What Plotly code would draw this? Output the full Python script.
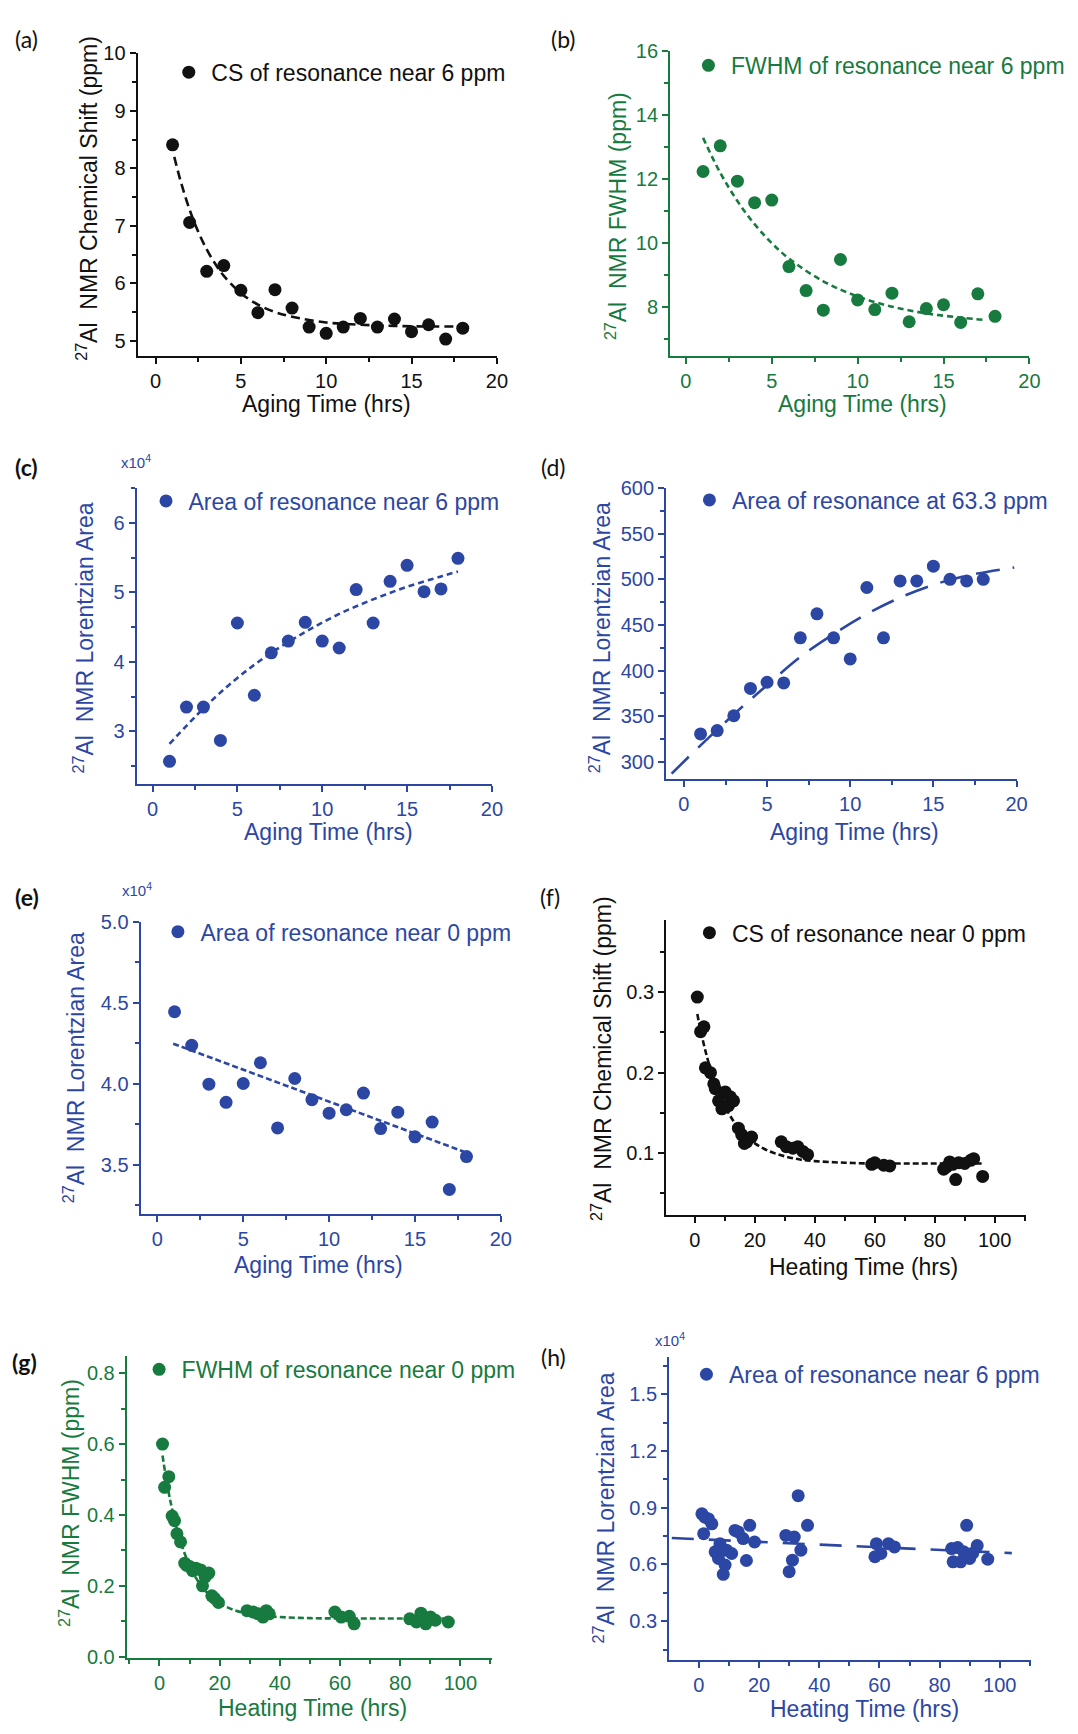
import plotly.graph_objects as go

W, H = 1078, 1734
BLACK = "#111111"
GREEN = "#177a3e"
BLUE = "#2c47a3"
FONT = "Liberation Sans, Arial, sans-serif"

# ---------------- data ----------------
# (a) CS of resonance near 6 ppm vs aging time
a_time = [1, 2, 3, 4, 5, 6, 7, 8, 9, 10, 11, 12, 13, 14, 15, 16, 17, 18]
a_cs = [8.41, 7.06, 6.21, 6.31, 5.88, 5.49, 5.89, 5.57, 5.24, 5.13, 5.24, 5.39, 5.24, 5.38, 5.16, 5.28, 5.03, 5.22]
a_fit_x = [1.1, 1.5, 2, 2.5, 3, 3.5, 4, 5, 6, 7, 8, 10, 12, 14, 16, 18]
a_fit_y = [8.20, 7.75, 7.28, 6.90, 6.59, 6.34, 6.13, 5.83, 5.63, 5.50, 5.42, 5.32, 5.28, 5.26, 5.25, 5.25]

# (b) FWHM of resonance near 6 ppm vs aging time
b_time = [1, 2, 3, 4, 5, 6, 7, 8, 9, 10, 11, 12, 13, 14, 15, 16, 17, 18]
b_fwhm = [12.23, 13.03, 11.93, 11.26, 11.34, 9.27, 8.52, 7.91, 9.49, 8.23, 7.93, 8.44, 7.55, 7.96, 8.08, 7.53, 8.42, 7.72]
b_fit_x = [1, 2, 3, 4, 5, 6, 8, 10, 12, 14, 16, 17.5]
b_fit_y = [13.28, 12.19, 11.31, 10.59, 10.00, 9.52, 8.81, 8.34, 8.02, 7.81, 7.68, 7.60]

# (c) Area of resonance near 6 ppm (x10^4) vs aging time
c_time = [1, 2, 3, 4, 5, 6, 7, 8, 9, 10, 11, 12, 13, 14, 15, 16, 17, 18]
c_area = [2.57, 3.35, 3.35, 2.87, 4.56, 3.52, 4.13, 4.30, 4.57, 4.30, 4.20, 5.04, 4.56, 5.16, 5.39, 5.01, 5.05, 5.49]
c_fit_x = [1, 3, 5, 7, 9, 11, 13, 15, 17, 18]
c_fit_y = [2.82, 3.33, 3.77, 4.13, 4.43, 4.69, 4.90, 5.08, 5.23, 5.30]

# (d) Area of resonance at 63.3 ppm vs aging time
d_time = [1, 2, 3, 4, 5, 6, 7, 8, 9, 10, 11, 12, 13, 14, 15, 16, 17, 18]
d_area = [330.6, 334.2, 350.5, 380.4, 387.2, 386.5, 435.9, 462.2, 435.9, 412.8, 491.1, 435.9, 498.3, 498.3, 514.5, 500.1, 498.3, 500.1]
d_fit_x = [-0.74, 1, 3, 5, 7, 9, 11, 13, 15, 17, 19.86]
d_fit_y = [287, 318, 352, 384, 415, 440, 462, 480, 494, 504, 513]

# (e) Area of resonance near 0 ppm (x10^4) vs aging time
e_time = [1, 2, 3, 4, 5, 6, 7, 8, 9, 10, 11, 12, 13, 14, 15, 16, 17, 18]
e_area = [4.445, 4.238, 3.998, 3.886, 4.002, 4.13, 3.728, 4.033, 3.902, 3.819, 3.84, 3.943, 3.724, 3.825, 3.673, 3.764, 3.348, 3.551]
e_fit_x = [0.92, 17.85]
e_fit_y = [4.248, 3.581]

# (f) CS of resonance near 0 ppm vs heating time
f_time = [0.8, 1.9, 3.0, 3.5, 5.2, 6.3, 6.8, 7.9, 9.0, 10.1, 11.2, 11.8, 12.9, 14.5, 15.6, 16.5, 17.3, 18.9,
          28.8, 30.5, 32.7, 34.3, 36.0, 37.6, 59, 60, 63, 65, 83, 84, 85, 86, 87, 88, 90, 92, 93, 96]
f_cs = [0.294, 0.251, 0.257, 0.206, 0.200, 0.186, 0.180, 0.165, 0.155, 0.176, 0.159, 0.170, 0.165, 0.131, 0.123, 0.112, 0.114, 0.120,
        0.114, 0.108, 0.106, 0.108, 0.102, 0.098, 0.086, 0.088, 0.085, 0.084, 0.080, 0.083, 0.089, 0.086, 0.067, 0.088, 0.087, 0.091, 0.093, 0.071]
f_fit_x = [0.8, 2, 4, 6, 8, 10, 13, 16, 20, 25, 30, 35, 40, 50, 60, 70, 80, 90, 96]
f_fit_y = [0.273, 0.251, 0.220, 0.195, 0.174, 0.158, 0.139, 0.125, 0.112, 0.102, 0.096, 0.092, 0.090, 0.088, 0.087, 0.087, 0.087, 0.087, 0.087]

# (g) FWHM of resonance near 0 ppm vs heating time
g_time = [1, 1.7, 3.1, 4.2, 5.0, 5.8, 7.0, 8.4, 9.0, 10, 11.0, 12.1, 13.7, 14.3, 15.2, 16.4, 17.4, 18.3, 19.6,
          29.1, 31.2, 32.8, 34.4, 35.5, 36.5, 58.3, 60.4, 63.1, 64.7, 83.2, 85.4, 86.9, 88.5, 90.1, 91.7, 96]
g_fwhm = [0.600, 0.478, 0.508, 0.397, 0.384, 0.347, 0.324, 0.264, 0.258, 0.255, 0.243, 0.250, 0.245, 0.200, 0.225, 0.236, 0.172, 0.165, 0.153,
          0.130, 0.126, 0.121, 0.112, 0.130, 0.121, 0.126, 0.112, 0.114, 0.093, 0.107, 0.098, 0.123, 0.093, 0.112, 0.103, 0.098]
g_fit_x = [1, 2, 3, 4, 6, 8, 10, 12, 15, 18, 21, 25, 30, 35, 40, 50, 60, 70, 80, 90, 96]
g_fit_y = [0.568, 0.514, 0.466, 0.424, 0.354, 0.300, 0.257, 0.224, 0.188, 0.163, 0.146, 0.131, 0.120, 0.115, 0.112, 0.109, 0.108, 0.108, 0.108, 0.108, 0.108]

# (h) Area of resonance near 6 ppm (x10^4) vs heating time
h_time = [1.0, 2.0, 3.2, 4.3, 1.6, 7.0, 5.4, 9.2, 10.9, 6.5, 8.7, 8.1, 13.1, 16.9, 14.7, 15.8, 18.5, 12.0,
          33.0, 36.1, 28.9, 31.7, 33.9, 31.1, 30.0, 59.0, 63.0, 65.0, 58.5, 60.5,
          89.0, 84.0, 86.0, 88.0, 92.5, 91.0, 84.5, 87.0, 90.0, 96.0]
h_area = [0.868, 0.850, 0.841, 0.815, 0.763, 0.710, 0.667, 0.676, 0.658, 0.632, 0.597, 0.548, 0.772, 0.807, 0.737, 0.621, 0.719, 0.780,
          0.964, 0.807, 0.754, 0.745, 0.676, 0.623, 0.562, 0.710, 0.710, 0.693, 0.641, 0.658,
          0.807, 0.684, 0.690, 0.667, 0.700, 0.660, 0.614, 0.614, 0.632, 0.628]
h_fit_x = [-9, 104]
h_fit_y = [0.740, 0.660]

legend_names = ["CS of resonance near 6 ppm", "FWHM of resonance near 6 ppm", "Area of resonance near 6 ppm",
                "Area of resonance at 63.3 ppm", "Area of resonance near 0 ppm", "CS of resonance near 0 ppm",
                "FWHM of resonance near 0 ppm", "Area of resonance near 6 ppm"]
panel_letters = ["(a)", "(b)", "(c)", "(d)", "(e)", "(f)", "(g)", "(h)"]
x_titles = ["Aging Time (hrs)"] * 5 + ["Heating Time (hrs)"] * 3
y_titles = ["Chemical Shift (ppm)", "FWHM (ppm)", "Lorentzian Area", "Lorentzian Area",
            "Lorentzian Area", "Chemical Shift (ppm)", "FWHM (ppm)", "Lorentzian Area"]

# ---------------- layout / style config ----------------
panels = [
    dict(x=a_time, y=a_cs, fx=a_fit_x, fy=a_fit_y, color=BLACK, box=(139, 502, 43, 349),
         xr=[-1.05, 20], yr=[4.74, 10], xd=5, xm=2.5, yd=1, ym=0.5, yf="", dash="9px,5px",
         leg=(188, 62), ytit=(88, 190), xtit=(330, 398), lab=(27, 28), bold=False),
    dict(x=b_time, y=b_fwhm, fx=b_fit_x, fy=b_fit_y, color=GREEN, box=(677, 1040, 40, 349),
         xr=[-0.92, 20], yr=[6.49, 16], xd=5, xm=2.5, yd=2, ym=1, yf="", dash="6px,4px",
         leg=(713, 55), ytit=(623, 208), xtit=(871, 398), lab=(569, 28), bold=False),
    dict(x=c_time, y=c_area, fx=c_fit_x, fy=c_fit_y, color=BLUE, box=(138, 497, 483, 782),
         xr=[-0.94, 20], yr=[2.25, 6.5], xd=5, xm=2.5, yd=1, ym=0.5, yf="", dash="6px,4px",
         leg=(165, 496), ytit=(85, 635), xtit=(332, 831), lab=(27, 462), bold=True, mult=(137, 456)),
    dict(x=d_time, y=d_area, fx=d_fit_x, fy=d_fit_y, color=BLUE, box=(673, 1027, 483, 777),
         xr=[-1.07, 20], yr=[281.6, 600], xd=5, xm=2.5, yd=50, ym=25, yf="", dash="24px,13px",
         leg=(714, 495), ytit=(607, 634), xtit=(863, 831), lab=(559, 462), bold=False),
    dict(x=e_time, y=e_area, fx=e_fit_x, fy=e_fit_y, color=BLUE, box=(142, 506, 922, 1218),
         xr=[-0.98, 20], yr=[3.195, 5.0], xd=5, xm=2.5, yd=0.5, ym=0.25, yf=".1f", dash="6px,3px",
         leg=(177, 932), ytit=(75, 1070), xtit=(322, 1269), lab=(27, 897), bold=True, mult=(138, 889)),
    dict(x=f_time, y=f_cs, fx=f_fit_x, fy=f_fit_y, color=BLACK, box=(673, 1037, 920, 1219),
         xr=[-9.6, 110.6], yr=[0.0227, 0.39], xd=20, xm=10, yd=0.1, ym=0.05, yf=".1f", dash="6px,3px",
         leg=(714, 933), ytit=(608, 1060), xtit=(872, 1271), lab=(556, 897), bold=False),
    dict(x=g_time, y=g_fwhm, fx=g_fit_x, fy=g_fit_y, color=GREEN, box=(128, 497, 1361, 1667),
         xr=[-10.9, 110.5], yr=[-0.003, 0.85], xd=20, xm=10, yd=0.2, ym=0.1, yf=".1f", dash="6px,3px",
         leg=(158, 1375), ytit=(70, 1510), xtit=(316, 1718), lab=(25, 1368), bold=True),
    dict(x=h_time, y=h_area, fx=h_fit_x, fy=h_fit_y, color=BLUE, box=(676, 1042, 1362, 1669),
         xr=[-9.9, 110.5], yr=[0.096, 1.70], xd=20, xm=10, yd=0.3, ym=0.15, yf=".1f", dash="22px,15px",
         leg=(711, 1380), ytit=(610, 1515), xtit=(873, 1719), lab=(559, 1362), bold=False, mult=(677, 1345)),
]

fig = go.Figure()
annotations = []
layout = dict(width=W, height=H, margin=dict(l=0, r=0, t=0, b=0),
              paper_bgcolor="white", plot_bgcolor="white", showlegend=True)

for i, p in enumerate(panels):
    n = i + 1
    sfx = "" if n == 1 else str(n)
    xa, ya = "x" + sfx, "y" + sfx
    legname = "legend" + sfx
    c = p["color"]
    fig.add_trace(go.Scatter(x=p["fx"], y=p["fy"], mode="lines", xaxis=xa, yaxis=ya,
                             line=dict(color=c, width=2.6, dash=p["dash"], shape="spline"),
                             showlegend=False, hoverinfo="skip"))
    fig.add_trace(go.Scatter(x=p["x"], y=p["y"], mode="markers", xaxis=xa, yaxis=ya,
                             name=legend_names[i], legend=legname,
                             marker=dict(color=c, size=13, line=dict(width=0))))
    x0, x1, y0, y1 = p["box"]
    tickfont = dict(family=FONT, size=20, color=c)
    common = dict(showgrid=False, zeroline=False, showline=True, linecolor=c, linewidth=2,
                  ticks="outside", ticklen=6, tickwidth=2, tickcolor=c, tickfont=tickfont,
                  mirror=False)
    layout["xaxis" + sfx] = dict(domain=[x0 / W, x1 / W], range=p["xr"], anchor=ya,
                                 dtick=p["xd"], tick0=0,
                                 minor=dict(dtick=p["xm"], ticks="outside", ticklen=4, tickwidth=1.5, tickcolor=c),
                                 **common)
    layout["yaxis" + sfx] = dict(domain=[1 - y1 / H, 1 - y0 / H], range=p["yr"], anchor=xa,
                                 dtick=p["yd"], tick0=0, tickformat=p["yf"],
                                 minor=dict(dtick=p["ym"], ticks="outside", ticklen=4, tickwidth=1.5, tickcolor=c),
                                 **common)
    lx, ly = p["leg"]
    layout[legname] = dict(x=(lx - 20) / W, y=1 - ly / H, xanchor="left", yanchor="middle",
                           bgcolor="rgba(0,0,0,0)", borderwidth=0, itemwidth=35,
                           font=dict(family=FONT, size=23, color=c))
    # axis titles
    tx, ty = p["xtit"]
    annotations.append(dict(text=x_titles[i], x=tx / W, y=1 - ty / H, xref="paper", yref="paper",
                            showarrow=False, xanchor="center", yanchor="middle",
                            font=dict(family=FONT, size=23, color=c)))
    vx, vy = p["ytit"]
    annotations.append(dict(text="<sup>27</sup>Al&nbsp; NMR " + y_titles[i], x=vx / W, y=1 - vy / H,
                            xref="paper", yref="paper", showarrow=False, textangle=-90,
                            xanchor="center", yanchor="middle",
                            font=dict(family=FONT, size=23, color=c)))
    lbx, lby = p["lab"]
    lt = panel_letters[i]
    annotations.append(dict(text=("<b>" + lt + "</b>") if p["bold"] else lt, x=lbx / W, y=1 - lby / H,
                            xref="paper", yref="paper", showarrow=False, xanchor="center", yanchor="middle",
                            font=dict(family="Lato, Liberation Sans, sans-serif", size=23, color="#111111")))
    if "mult" in p:
        mx, my = p["mult"]
        annotations.append(dict(text="x10<sup>4</sup>", x=mx / W, y=1 - my / H, xref="paper", yref="paper",
                                showarrow=False, xanchor="center", yanchor="middle",
                                font=dict(family=FONT, size=15, color=c)))

layout["annotations"] = annotations
fig.update_layout(**layout)
fig.write_html("out.html", config={"displayModeBar": False},
               post_script="document.body.style.margin='0';document.body.style.overflow='hidden';")
